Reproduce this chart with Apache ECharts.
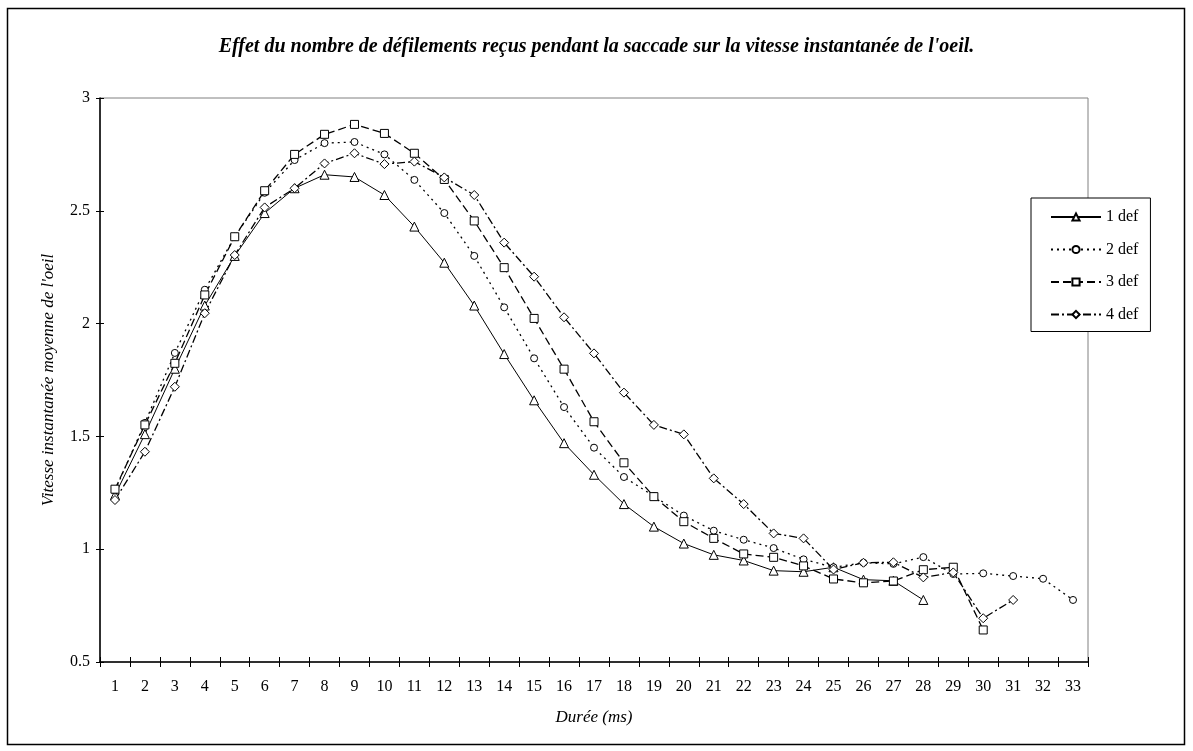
<!DOCTYPE html>
<html><head><meta charset="utf-8">
<script src="https://cdn.jsdelivr.net/npm/echarts@6/dist/echarts.min.js"></script>
<style>html,body{margin:0;padding:0;background:#fff}#c{width:1193px;height:751px}</style>
</head><body><div id="c"></div>
<script>
const categories = ['1','2','3','4','5','6','7','8','9','10','11','12','13','14','15','16','17','18','19','20','21','22','23','24','25','26','27','28','29','30','31','32','33'];
const def1 = [1.24,1.51,1.80,2.08,2.30,2.49,2.60,2.66,2.65,2.57,2.43,2.27,2.08,1.865,1.66,1.47,1.33,1.20,1.10,1.025,0.975,0.95,0.905,0.90,0.92,0.865,0.86,0.775];
const def2 = [1.26,1.56,1.87,2.15,2.385,2.58,2.725,2.80,2.805,2.75,2.637,2.49,2.30,2.072,1.846,1.63,1.45,1.32,1.235,1.149,1.082,1.042,1.005,0.955,0.92,0.94,0.935,0.965,0.89,0.893,0.881,0.869,0.775];
const def3 = [1.266,1.551,1.824,2.127,2.385,2.589,2.75,2.839,2.883,2.843,2.755,2.639,2.455,2.248,2.023,1.798,1.565,1.383,1.233,1.122,1.048,0.979,0.964,0.926,0.868,0.851,0.859,0.909,0.92,0.642];
const def4 = [1.218,1.432,1.72,2.046,2.304,2.515,2.60,2.71,2.755,2.707,2.718,2.648,2.57,2.359,2.208,2.028,1.868,1.694,1.551,1.509,1.314,1.20,1.07,1.048,0.91,0.94,0.942,0.875,0.897,0.694,0.775];
const seriesNames = ['1 def','2 def','3 def','4 def'];
const titleText = "Effet du nombre de défilements reçus pendant la saccade sur la vitesse instantanée de l'oeil.";
const xName = 'Durée (ms)';
const yName = "Vitesse instantanée moyenne de l'oeil";

const FONT = "'Liberation Serif','Times New Roman',serif";
const chart = echarts.init(document.getElementById('c'), null, {renderer:'canvas'});
function mk(name, data, symbol, size, dash, w){
  return {name, type:'line', data, symbol, symbolSize:size, showAllSymbol:true,
    xAxisIndex:0, yAxisIndex:0,
    lineStyle:{color:'#000', width:w, type:dash},
    itemStyle:{color:'#fff', borderColor:'#000', borderWidth:1},
    emphasis:{disabled:true}, z:3};
}
chart.setOption({
  animation:false,
  backgroundColor:'#fff',
  title:{text:titleText, left:'center', top:32,
    textStyle:{fontFamily:FONT, fontSize:20, fontWeight:'bold', fontStyle:'italic', color:'#000'}},
  graphic:[{type:'rect', shape:{x:7.5,y:8.5,width:1177,height:736}, style:{fill:null, stroke:'#000', lineWidth:1.5}, z:-1}],
  grid:{left:100, right:105, top:98, bottom:89, show:true, borderColor:'#808080', borderWidth:1, backgroundColor:'transparent'},
  legend:{orient:'vertical', left:1031, top:198, width:120,
    backgroundColor:'#fff', borderColor:'#000', borderWidth:1,
    padding:[11,12,9,19], itemGap:16.5, itemWidth:50, itemHeight:9,
    textStyle:{fontFamily:FONT, fontSize:16, color:'#000', lineHeight:16},
    data:seriesNames},
  xAxis:[
    {type:'category', data:categories, position:'bottom', boundaryGap:true,
     name:xName, nameLocation:'middle', nameGap:47,
     nameTextStyle:{fontFamily:FONT, fontSize:17, fontStyle:'italic', color:'#000'},
     axisLine:{lineStyle:{color:'#000', width:1.5}},
     axisTick:{show:true, inside:false, length:5, alignWithLabel:false, lineStyle:{color:'#000'}},
     axisLabel:{fontFamily:FONT, fontSize:16, color:'#000', margin:17, interval:0},
     splitLine:{show:false}},
    {type:'category', data:categories, position:'top', offset:-564, boundaryGap:true,
     axisLine:{show:false}, axisTick:{show:true, inside:false, length:5, lineStyle:{color:'#000'}},
     axisLabel:{show:false}, splitLine:{show:false}}
  ],
  yAxis:[
    {type:'value', min:0.5, max:3, interval:0.5, position:'left',
     name:yName, nameLocation:'middle', nameGap:43,
     nameTextStyle:{fontFamily:FONT, fontSize:17, fontStyle:'italic', color:'#000'},
     axisLine:{show:true, lineStyle:{color:'#000', width:1.5}},
     axisTick:{show:true, inside:false, length:4, lineStyle:{color:'#000'}},
     axisLabel:{fontFamily:FONT, fontSize:16, color:'#000', margin:10},
     splitLine:{show:false}},
    {type:'value', min:0.5, max:3, interval:0.5, position:'right', offset:-988,
     axisLine:{show:false}, axisTick:{show:true, inside:false, length:4, lineStyle:{color:'#000'}},
     axisLabel:{show:false}, splitLine:{show:false}}
  ],
  series:[
    mk(seriesNames[0], def1, 'triangle', 9, 'solid', 1),
    mk(seriesNames[1], def2, 'circle', 7, [2,4], 1.3),
    mk(seriesNames[2], def3, 'rect', 8, [8,4], 1.3),
    mk(seriesNames[3], def4, 'diamond', 9, [8,3,2,3], 1.3)
  ]
});
</script></body></html>
